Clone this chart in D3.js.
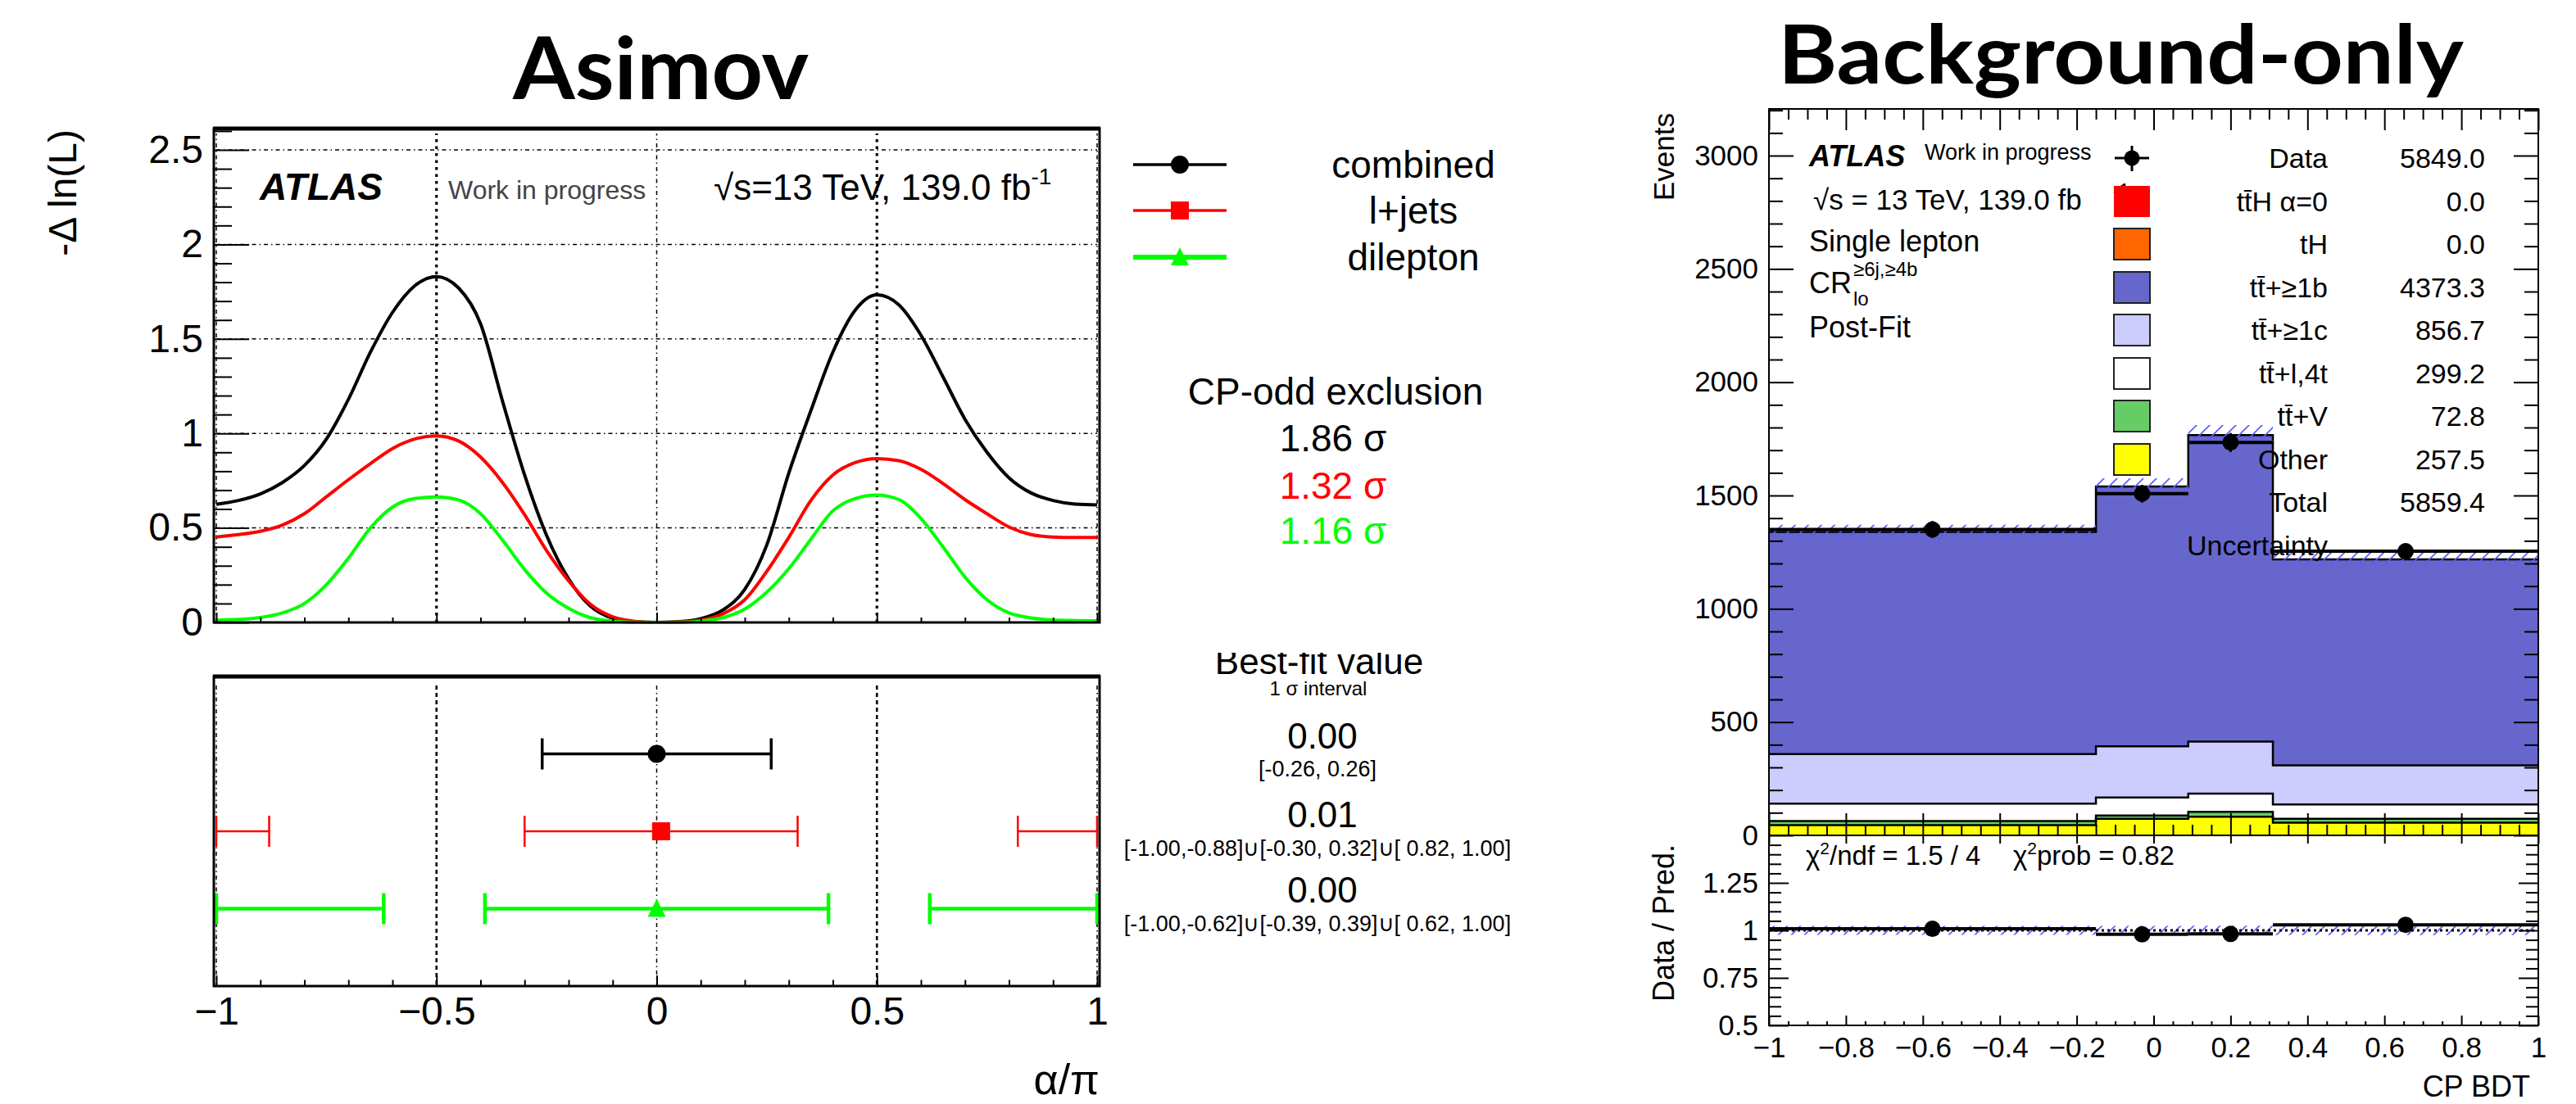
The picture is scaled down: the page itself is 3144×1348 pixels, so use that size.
<!DOCTYPE html>
<html><head><meta charset="utf-8">
<script src="https://cdn.jsdelivr.net/npm/d3@7"></script>
<style>
body{margin:0;background:#fff}
svg{display:block;background:#fff}
</style>
</head><body>
<svg id="c" width="3144" height="1348"></svg>
<script>
// ===================== DATA =====================
// Left: -Delta ln(L) scan vs alpha/pi
const alpha = [-1.00,-0.95,-0.90,-0.85,-0.80,-0.75,-0.70,-0.65,-0.60,-0.55,-0.50,-0.45,-0.40,-0.35,-0.30,-0.25,-0.20,-0.15,-0.10,-0.05,0.00,
               0.05,0.10,0.15,0.20,0.25,0.30,0.35,0.40,0.45,0.50,0.55,0.60,0.65,0.70,0.75,0.80,0.85,0.90,0.95,1.00];
const nllCombined = [0.625,0.645,0.68,0.74,0.83,0.97,1.18,1.43,1.64,1.78,1.83,1.77,1.58,1.17,0.78,0.46,0.23,0.085,0.022,0.004,0.0,
                     0.004,0.02,0.065,0.175,0.41,0.79,1.12,1.43,1.65,1.733,1.68,1.52,1.30,1.075,0.90,0.765,0.685,0.645,0.626,0.622];
const nllLjets    = [0.452,0.465,0.482,0.515,0.575,0.665,0.755,0.84,0.92,0.97,0.987,0.96,0.875,0.74,0.57,0.38,0.22,0.095,0.03,0.006,0.0,
                     0.002,0.012,0.045,0.12,0.27,0.45,0.645,0.78,0.845,0.867,0.856,0.81,0.735,0.65,0.575,0.505,0.465,0.452,0.449,0.449];
const nllDilep    = [0.012,0.016,0.026,0.05,0.10,0.20,0.34,0.50,0.61,0.655,0.664,0.648,0.575,0.435,0.28,0.155,0.075,0.025,0.007,0.001,0.0,
                     0.001,0.007,0.025,0.07,0.16,0.285,0.44,0.59,0.655,0.674,0.65,0.55,0.40,0.24,0.12,0.05,0.024,0.013,0.01,0.009];
const seriesNames = ["combined","l+jets","dilepton"];
const exclusionSigma = ["1.86","1.32","1.16"];
const bestFit = [0.00, 0.01, 0.00];
const bestFitText = ["0.00","0.01","0.00"];
const intervalText = ["[-0.26, 0.26]",
                      "[-1.00,-0.88]\u222a[-0.30, 0.32]\u222a[ 0.82, 1.00]",
                      "[-1.00,-0.62]\u222a[-0.39, 0.39]\u222a[ 0.62, 1.00]"];
const intervalsCombined = [[-0.26,0.26]];
const intervalsLjets = [[-1.00,-0.88],[-0.30,0.32],[0.82,1.00]];
const intervalsDilep = [[-1.00,-0.62],[-0.39,0.39],[0.62,1.00]];
const leftYTicks = [0,0.5,1,1.5,2,2.5];
const leftXTicks = [-1,-0.5,0,0.5,1];

// Right: CP BDT post-fit background-only
const binEdges = [-1,-0.15,0.09,0.31,1];
const evOther = [45,73,82,56];
const evTtV   = [18,15,22,17];
const evTtl   = [77,79,80,63];
const evTtc   = [219,226,230,173];
const evTtb   = [980,1147,1353,909];
const evTH    = [0,0,0,0];
const evTtH   = [0,0,0,0];
const dataEvents = [1350,1508,1734,1254];
const dataErr    = [37,39,42,35];
const predUnc    = [32,36,44,30];
const legendLabels = ["Data","tt\u0304H \u03b1=0","tH","tt\u0304+\u22651b","tt\u0304+\u22651c","tt\u0304+l,4t","tt\u0304+V","Other","Total","Uncertainty"];
const legendValues = ["5849.0","0.0","0.0","4373.3","856.7","299.2","72.8","257.5","5859.4",""];
const rightYTicks = [0,500,1000,1500,2000,2500,3000];
const ratioYTicks = [0.5,0.75,1,1.25];
const rightXTicks = [-1,-0.8,-0.6,-0.4,-0.2,0,0.2,0.4,0.6,0.8,1];

// ===================== STYLE =====================
const FONT = '"Liberation Sans", Arial, Helvetica, sans-serif';
const RED = "#ff0000", GREEN = "#00ff00";
const seriesColors = ["#000000", RED, GREEN];
const compColors = {Other:"#ffff00", ttV:"#66cc66", ttl:"#ffffff", ttc:"#ccccff", ttb:"#6666cc", tH:"#ff6600", ttH:"#ff0000"};
const legendBoxColors = [null, "#ff0000", "#ff6600", "#6666cc", "#ccccff", "#ffffff", "#66cc66", "#ffff00", null, null];

const svg = d3.select("#c");
const defs = svg.append("defs");
const pat = defs.append("pattern").attr("id","hatch").attr("patternUnits","userSpaceOnUse")
  .attr("width",16).attr("height",16);
pat.append("path").attr("d","M-4,4 L4,-4 M0,16 L16,0 M12,20 L20,12")
  .attr("stroke","#5a5aff").attr("stroke-width",1.6).attr("fill","none");

function txt(g, x, y, s, size, opts={}) {
  const t = g.append("text").attr("x",x).attr("y",y).attr("font-family",opts.family||FONT)
    .attr("font-size",size).attr("fill",opts.fill||"#000").attr("text-anchor",opts.anchor||"start")
    .text(s);
  if (opts.weight) t.attr("font-weight",opts.weight);
  if (opts.style) t.attr("font-style",opts.style);
  return t;
}
function minorVals(lo, hi, step, majors) {
  return d3.range(Math.round((hi-lo)/step)+1).map(i=>+(lo+i*step).toFixed(4))
    .filter(v=>!majors.some(m=>Math.abs(m-v)<1e-6));
}
function styleAxis(g, size) {
  g.select(".domain").remove();
  g.attr("font-family",FONT).attr("font-size",size||10);
  g.selectAll("line").attr("stroke","#000").attr("stroke-width",2);
  return g;
}

// ===================== TITLES =====================
svg.append("text").attr("x",626).attr("y",121).attr("font-family","Lato, sans-serif").attr("font-weight",700)
  .attr("font-size",105).attr("textLength",361).attr("lengthAdjust","spacingAndGlyphs").text("Asimov");
svg.append("text").attr("x",2170).attr("y",102).attr("font-family","Lato, sans-serif").attr("font-weight",700)
  .attr("font-size",100).attr("textLength",837).attr("lengthAdjust","spacingAndGlyphs").text("Background-only");

// ===================== LEFT PANEL =====================
const gL = svg.append("g");
const LX0 = 261, LX1 = 1342, LTOP = 157;
const xL = d3.scaleLinear().domain([-1,1]).range([264,1339]);
const yT = d3.scaleLinear().domain([0,2.5]).range([760,183]);
const yB = d3.scaleLinear().domain([0,4]).range([1204,826]);

defs.append("clipPath").attr("id","clipTop").append("rect")
  .attr("x",LX0).attr("y",LTOP).attr("width",LX1-LX0).attr("height",yT(0)-LTOP+2);

// grids
gL.selectAll("line.hg").data([0.5,1,1.5,2,2.5]).join("line")
  .attr("x1",xL(-1)).attr("x2",xL(1)).attr("y1",d=>yT(d)).attr("y2",d=>yT(d))
  .attr("stroke","#000").attr("stroke-width",1.5).attr("stroke-dasharray","5,4,1.5,4");
gL.selectAll("line.vg").data(leftXTicks).join("line")
  .attr("x1",d=>xL(d)).attr("x2",d=>xL(d)).attr("y1",yT(0)).attr("y2",LTOP+6)
  .attr("stroke","#000").attr("stroke-width",d=>Math.abs(d)===0.5?3.2:1.5)
  .attr("stroke-dasharray",d=>Math.abs(d)===0.5?"3.5,5":"5,4,1.5,4");

// curves
const nllSeries = [nllCombined, nllLjets, nllDilep];
const lineGen = d3.line().x((d,i)=>xL(alpha[i])).y(d=>yT(d)).curve(d3.curveMonotoneX);
gL.append("g").attr("clip-path","url(#clipTop)").selectAll("path").data(nllSeries).join("path")
  .attr("d",lineGen).attr("fill","none").attr("stroke",(d,i)=>seriesColors[i]).attr("stroke-width",4);

// axes top panel
const axLY = gL.append("g").attr("transform",`translate(${LX0},0)`)
  .call(d3.axisLeft(yT).tickValues(leftYTicks).tickSize(-43).tickPadding(13).tickFormat(d3.format("~g")));
styleAxis(axLY, 48);
const axLYm = gL.append("g").attr("transform",`translate(${LX0},0)`)
  .call(d3.axisLeft(yT).tickValues(minorVals(0,2.6,0.1,leftYTicks)).tickSize(-22).tickFormat(""));
styleAxis(axLYm);
const axLXt = gL.append("g").attr("transform",`translate(0,${yT(0)})`)
  .call(d3.axisBottom(xL).tickValues(leftXTicks).tickSize(-12).tickFormat(""));
styleAxis(axLXt);
const axLXtm = gL.append("g").attr("transform",`translate(0,${yT(0)})`)
  .call(d3.axisBottom(xL).tickValues(minorVals(-1,1,0.1,leftXTicks)).tickSize(-6).tickFormat(""));
styleAxis(axLXtm);

// frame top panel
gL.append("rect").attr("x",LX0).attr("y",LTOP).attr("width",LX1-LX0).attr("height",yT(0)-LTOP)
  .attr("fill","none").attr("stroke","#000").attr("stroke-width",3);
gL.append("line").attr("x1",LX0-1).attr("x2",LX1+1).attr("y1",LTOP).attr("y2",LTOP).attr("stroke","#000").attr("stroke-width",5);

// labels top panel
txt(gL, 317, 244, "ATLAS", 46, {weight:"bold", style:"italic"});
txt(gL, 547, 243, "Work in progress", 32, {fill:"#444"});
const cme = txt(gL, 871, 244, "\u221as=13 TeV, 139.0 fb", 44);
cme.append("tspan").attr("dy",-19).attr("font-size",28).text("-1");
gL.append("text").attr("transform","translate(93,158) rotate(-90)").attr("text-anchor","end")
  .attr("font-family",FONT).attr("font-size",48).text("-\u0394 ln(L)");

// legend
const legRowsY = [201, 257, 314];
const legLineW = [3.5, 3.5, 6];
seriesNames.forEach((nm,i)=>{
  const y = legRowsY[i];
  gL.append("line").attr("x1",1383).attr("x2",1497).attr("y1",y).attr("y2",y)
    .attr("stroke",seriesColors[i]).attr("stroke-width",legLineW[i]);
  txt(gL, 1725, y+16, nm, 46, {anchor:"middle"});
});
function marker(g, kind, x, y, color, s) {
  if (kind===0) g.append("circle").attr("cx",x).attr("cy",y).attr("r",s/2).attr("fill",color);
  else if (kind===1) g.append("rect").attr("x",x-s/2).attr("y",y-s/2).attr("width",s).attr("height",s).attr("fill",color);
  else g.append("path").attr("d",`M${x-s/2},${y+s*0.45} L${x+s/2},${y+s*0.45} L${x},${y-s*0.55} Z`).attr("fill",color);
}
seriesNames.forEach((nm,i)=>marker(gL, i, 1440, legRowsY[i], seriesColors[i], 22));

txt(gL, 1630, 494, "CP-odd exclusion", 46, {anchor:"middle"});
[551,609,664].forEach((y,i)=>txt(gL, 1627, y, exclusionSigma[i]+" \u03c3", 46, {anchor:"middle", fill:seriesColors[i]}));

// ---- bottom panel ----
gL.selectAll("line.vb").data(leftXTicks).join("line")
  .attr("x1",d=>xL(d)).attr("x2",d=>xL(d)).attr("y1",837).attr("y2",yB(0))
  .attr("stroke","#000").attr("stroke-width",d=>Math.abs(d)===0.5?2.6:1.5)
  .attr("stroke-dasharray",d=>Math.abs(d)===0.5?"5,4":"5,4,1.5,4");

const intervalSets = [intervalsCombined, intervalsLjets, intervalsDilep];
const barW = [3.5, 2.5, 4.5];
intervalSets.forEach((ivs,i)=>{
  const y = yB(3-i);
  const g = gL.append("g");
  g.selectAll("line.h").data(ivs).join("line").attr("x1",d=>xL(d[0])).attr("x2",d=>xL(d[1]))
    .attr("y1",y).attr("y2",y).attr("stroke",seriesColors[i]).attr("stroke-width",barW[i]);
  const ends = ivs.flat();
  g.selectAll("line.c").data(ends).join("line").attr("x1",d=>xL(d)).attr("x2",d=>xL(d))
    .attr("y1",y-19).attr("y2",y+19).attr("stroke",seriesColors[i]).attr("stroke-width",barW[i]);
  marker(g, i, xL(bestFit[i]), y, seriesColors[i], 22);
});

const axLB = gL.append("g").attr("transform",`translate(0,${yB(0)})`)
  .call(d3.axisBottom(xL).tickValues(leftXTicks).tickSize(-13).tickPadding(13).tickFormat(d3.format("~g")));
styleAxis(axLB, 48);
const axLBm = gL.append("g").attr("transform",`translate(0,${yB(0)})`)
  .call(d3.axisBottom(xL).tickValues(minorVals(-1,1,0.1,leftXTicks)).tickSize(-7.5).tickFormat(""));
styleAxis(axLBm);
gL.append("rect").attr("x",LX0).attr("y",yB(4)).attr("width",LX1-LX0).attr("height",yB(0)-yB(4))
  .attr("fill","none").attr("stroke","#000").attr("stroke-width",3);
gL.append("line").attr("x1",LX0-1).attr("x2",LX1+1).attr("y1",yB(4)).attr("y2",yB(4)).attr("stroke","#000").attr("stroke-width",5);
txt(gL, 1342, 1336, "\u03b1/\u03c0", 52, {anchor:"end"});

// best-fit texts
defs.append("clipPath").attr("id","clipBF").append("rect").attr("x",1300).attr("y",797).attr("width",700).attr("height",200);
txt(gL, 1610, 823, "Best-fit value", 44, {anchor:"middle"}).attr("clip-path","url(#clipBF)");
txt(gL, 1609, 849, "1 \u03c3 interval", 24, {anchor:"middle"});
[914,1010,1102].forEach((y,i)=>txt(gL, 1614, y, bestFitText[i], 44, {anchor:"middle"}));
[948,1045,1137].forEach((y,i)=>txt(gL, 1608, y, intervalText[i], 27, {anchor:"middle"}));

// ===================== RIGHT PANEL =====================
const gR = svg.append("g");
const RX0 = 2159, RX1 = 3098, RTOP = 133, RMID = 1020, RBOT = 1252;
const xR = d3.scaleLinear().domain([-1,1]).range([RX0,RX1]);
const yR = d3.scaleLinear().domain([0,3000]).range([RMID,190]);
const yRat = d3.scaleLinear().domain([0.5,1.5]).range([RBOT,RMID]);

defs.append("clipPath").attr("id","clipR").append("rect").attr("x",RX0).attr("y",RTOP).attr("width",RX1-RX0).attr("height",RMID-RTOP);
defs.append("clipPath").attr("id","clipRat").append("rect").attr("x",RX0).attr("y",RMID).attr("width",RX1-RX0).attr("height",RBOT-RMID);

const bins = binEdges.slice(0,-1).map((lo,i)=>({lo, hi:binEdges[i+1],
  Other:evOther[i], ttV:evTtV[i], ttl:evTtl[i], ttc:evTtc[i], ttb:evTtb[i], tH:evTH[i], ttH:evTtH[i]}));
const keys = ["Other","ttV","ttl","ttc","ttb","tH","ttH"];
const stacked = d3.stack().keys(keys)(bins);
function stepPts(arr0, arr1) {
  const pts = bins.map((b,i)=>({x:b.lo, y0:arr0[i], y1:arr1[i]}));
  const n = bins.length-1;
  pts.push({x:bins[n].hi, y0:arr0[n], y1:arr1[n]});
  return pts;
}
const gStack = gR.append("g").attr("clip-path","url(#clipR)");
const areaR = d3.area().x(p=>xR(p.x)).y0(p=>yR(p.y0)).y1(p=>yR(p.y1)).curve(d3.curveStepAfter);
const lineR = d3.line().x(p=>xR(p.x)).y(p=>yR(p.y1)).curve(d3.curveStepAfter);
const layers = stacked.filter(l=>d3.sum(l,d=>d[1]-d[0])>0).map(l=>({key:l.key, pts:stepPts(l.map(d=>d[0]), l.map(d=>d[1]))}));
gStack.selectAll("path.a").data(layers).join("path").attr("d",l=>areaR(l.pts)).attr("fill",l=>compColors[l.key]);
gStack.selectAll("path.l").data(layers).join("path").attr("d",l=>lineR(l.pts)).attr("fill","none")
  .attr("stroke","#000").attr("stroke-width",2.5);

const totals = bins.map((b,i)=>stacked[stacked.length-1][i][1]);
const uncPts = stepPts(totals.map((t,i)=>t-predUnc[i]), totals.map((t,i)=>t+predUnc[i]));
gStack.append("path").attr("d",areaR(uncPts)).attr("fill","url(#hatch)");

// data points
const gData = gR.append("g");
bins.forEach((b,i)=>{
  const c = (b.lo+b.hi)/2, y = yR(dataEvents[i]);
  gData.append("line").attr("x1",xR(b.lo)).attr("x2",xR(b.hi)).attr("y1",y).attr("y2",y).attr("stroke","#000").attr("stroke-width",4);
  gData.append("line").attr("x1",xR(c)).attr("x2",xR(c)).attr("y1",yR(dataEvents[i]-dataErr[i])).attr("y2",yR(dataEvents[i]+dataErr[i]))
    .attr("stroke","#000").attr("stroke-width",3);
  gData.append("circle").attr("cx",xR(c)).attr("cy",y).attr("r",10).attr("fill","#000");
});

// ratio panel
const gRat = gR.append("g").attr("clip-path","url(#clipRat)");
const areaRat = d3.area().x(p=>xR(p.x)).y0(p=>yRat(p.y0)).y1(p=>yRat(p.y1)).curve(d3.curveStepAfter);
const ratUnc = stepPts(totals.map((t,i)=>1-predUnc[i]/t), totals.map((t,i)=>1+predUnc[i]/t));
gRat.append("path").attr("d",areaRat(ratUnc)).attr("fill","url(#hatch)");
gRat.append("line").attr("x1",RX0).attr("x2",RX1).attr("y1",yRat(1)).attr("y2",yRat(1))
  .attr("stroke","#000").attr("stroke-width",3).attr("stroke-dasharray","3,4");
bins.forEach((b,i)=>{
  const r = dataEvents[i]/totals[i], c = (b.lo+b.hi)/2;
  gRat.append("line").attr("x1",xR(b.lo)).attr("x2",xR(b.hi)).attr("y1",yRat(r)).attr("y2",yRat(r)).attr("stroke","#000").attr("stroke-width",4);
  gRat.append("circle").attr("cx",xR(c)).attr("cy",yRat(r)).attr("r",10).attr("fill","#000");
});

// axes right
const rMinorY = minorVals(0,3200,100,rightYTicks);
styleAxis(gR.append("g").attr("transform",`translate(${RX0},0)`)
  .call(d3.axisLeft(yR).tickValues(rightYTicks).tickSize(-30).tickPadding(13).tickFormat(d3.format("d"))), 35);
styleAxis(gR.append("g").attr("transform",`translate(${RX0},0)`)
  .call(d3.axisLeft(yR).tickValues(rMinorY).tickSize(-17).tickFormat("")));
styleAxis(gR.append("g").attr("transform",`translate(${RX1},0)`)
  .call(d3.axisRight(yR).tickValues(rightYTicks).tickSize(-30).tickFormat("")));
styleAxis(gR.append("g").attr("transform",`translate(${RX1},0)`)
  .call(d3.axisRight(yR).tickValues(rMinorY).tickSize(-17).tickFormat("")));
const xMinorR = minorVals(-1,1,0.05,rightXTicks);
styleAxis(gR.append("g").attr("transform",`translate(0,${RTOP})`)
  .call(d3.axisTop(xR).tickValues(rightXTicks).tickSize(-26).tickFormat("")));
styleAxis(gR.append("g").attr("transform",`translate(0,${RTOP})`)
  .call(d3.axisTop(xR).tickValues(xMinorR).tickSize(-13).tickFormat("")));
styleAxis(gR.append("g").attr("transform",`translate(0,${RMID})`)
  .call(d3.axisBottom(xR).tickValues(rightXTicks).tickSize(-27).tickFormat("")));
styleAxis(gR.append("g").attr("transform",`translate(0,${RMID})`)
  .call(d3.axisBottom(xR).tickValues(xMinorR).tickSize(-13).tickFormat("")));
// ratio axes
const ratMinor = minorVals(0.5,1.5,0.05,ratioYTicks.concat([1.5]));
styleAxis(gR.append("g").attr("transform",`translate(${RX0},0)`)
  .call(d3.axisLeft(yRat).tickValues(ratioYTicks).tickSize(-24).tickPadding(13).tickFormat(d3.format("~g"))), 35);
styleAxis(gR.append("g").attr("transform",`translate(${RX0},0)`)
  .call(d3.axisLeft(yRat).tickValues(ratMinor).tickSize(-15).tickFormat("")));
styleAxis(gR.append("g").attr("transform",`translate(${RX1},0)`)
  .call(d3.axisRight(yRat).tickValues(ratioYTicks).tickSize(-24).tickFormat("")));
styleAxis(gR.append("g").attr("transform",`translate(${RX1},0)`)
  .call(d3.axisRight(yRat).tickValues(ratMinor).tickSize(-15).tickFormat("")));
styleAxis(gR.append("g").attr("transform",`translate(0,${RBOT})`)
  .call(d3.axisBottom(xR).tickValues(rightXTicks).tickSize(-12).tickPadding(14).tickFormat(d3.format("~g"))), 35);
styleAxis(gR.append("g").attr("transform",`translate(0,${RBOT})`)
  .call(d3.axisBottom(xR).tickValues(xMinorR).tickSize(-5).tickFormat("")));
styleAxis(gR.append("g").attr("transform",`translate(0,${RMID})`)
  .call(d3.axisTop(xR).tickValues(rightXTicks).tickSize(-10).tickFormat("")));

// frames
gR.append("rect").attr("x",RX0).attr("y",RTOP).attr("width",RX1-RX0).attr("height",RMID-RTOP)
  .attr("fill","none").attr("stroke","#000").attr("stroke-width",2);
gR.append("rect").attr("x",RX0).attr("y",RMID).attr("width",RX1-RX0).attr("height",RBOT-RMID)
  .attr("fill","none").attr("stroke","#000").attr("stroke-width",2);

// right texts
txt(gR, 2208, 203, "ATLAS", 36, {weight:"bold", style:"italic"});
txt(gR, 2349, 195, "Work in progress", 27);
const cme2 = txt(gR, 2213, 256, "\u221as = 13 TeV, 139.0 fb", 35);
cme2.append("tspan").attr("dx",38).attr("dy",-15).attr("font-size",23).text("-1");
txt(gR, 2208, 307, "Single lepton", 36);
const cr = txt(gR, 2208, 358, "CR", 36);
txt(gR, 2262, 337, "\u22656j,\u22654b", 24);
txt(gR, 2262, 373, "lo", 24);
txt(gR, 2208, 412, "Post-Fit", 36);

// legend
const legY = [193,246,298,351,403,456,508,561,613,666];
legendLabels.forEach((lab,i)=>{
  const y = legY[i];
  if (i===0) {
    gR.append("line").attr("x1",2581).attr("x2",2623).attr("y1",y).attr("y2",y).attr("stroke","#000").attr("stroke-width",3);
    gR.append("line").attr("x1",2602).attr("x2",2602).attr("y1",y-15).attr("y2",y+16).attr("stroke","#000").attr("stroke-width",3);
    gR.append("circle").attr("cx",2602).attr("cy",y).attr("r",9.5).attr("fill","#000");
  } else if (legendBoxColors[i]) {
    gR.append("rect").attr("x",2580).attr("y",y-19).attr("width",44).attr("height",38)
      .attr("fill",legendBoxColors[i]).attr("stroke",i===1?"none":"#222").attr("stroke-width",2);
  }
  txt(gR, 2841, y+12, lab, 34, {anchor:"end"});
  if (legendValues[i]) txt(gR, 3033, y+12, legendValues[i], 34, {anchor:"end"});
});

// chi2 text
const chi = txt(gR, 2204, 1056, "\u03c7", 33);
chi.append("tspan").attr("dy",-13).attr("font-size",21).text("2");
chi.append("tspan").attr("dy",13).text("/ndf = 1.5 / 4");
const chi2 = txt(gR, 2457, 1056, "\u03c7", 33);
chi2.append("tspan").attr("dy",-13).attr("font-size",21).text("2");
chi2.append("tspan").attr("dy",13).text("prob = 0.82");

// axis titles
gR.append("text").attr("transform","translate(2043,138) rotate(-90)").attr("text-anchor","end")
  .attr("font-family",FONT).attr("font-size",35).text("Events");
gR.append("text").attr("transform","translate(2043,1031) rotate(-90)").attr("text-anchor","end")
  .attr("font-family",FONT).attr("font-size",36).text("Data / Pred.");
txt(gR, 3088, 1339, "CP BDT", 36, {anchor:"end"});
</script>
</body></html>
